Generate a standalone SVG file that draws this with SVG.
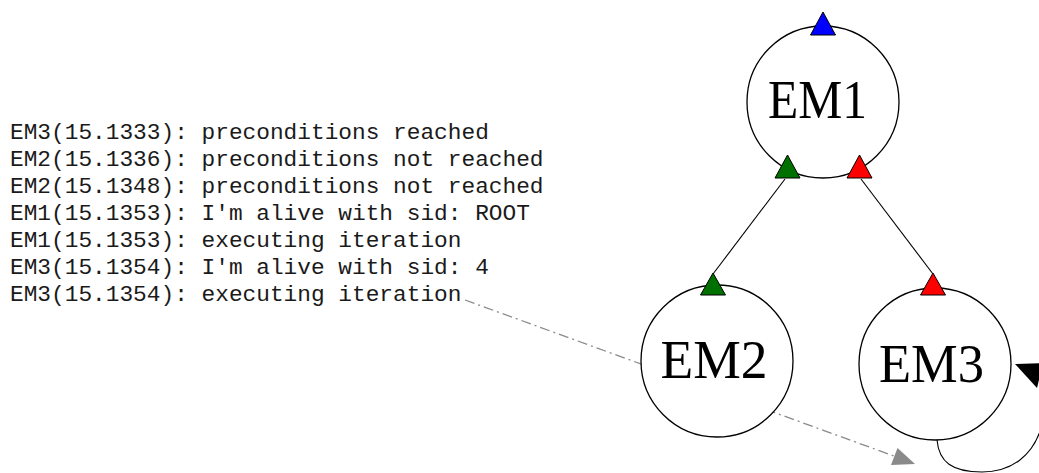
<svg xmlns="http://www.w3.org/2000/svg" width="1039" height="473" viewBox="0 0 1039 473">
  <style>
    .log { font-family: "Liberation Mono", "Courier New", monospace; font-size: 22.8px; fill: #1a1a1a; }
    .node circle { fill: #ffffff; stroke: #000000; stroke-width: 1.3; }
    .node text { font-family: "Liberation Serif", "Times New Roman", serif; font-size: 55px; fill: #000000; text-anchor: middle; }
    .edge { fill: none; stroke: #000000; stroke-width: 1.1; }
    .trace { fill: none; stroke: #8a8a8a; stroke-width: 1.3; stroke-dasharray: 10 4 2 4; }
    .tri { stroke: #000000; stroke-width: 1; stroke-linejoin: miter; }
  </style>

  <!-- event log -->
  <g id="log">
    <text class="log" x="10" y="139">EM3(15.1333): preconditions reached</text>
    <text class="log" x="10" y="166">EM2(15.1336): preconditions not reached</text>
    <text class="log" x="10" y="193">EM2(15.1348): preconditions not reached</text>
    <text class="log" x="10" y="220">EM1(15.1353): I'm alive with sid: ROOT</text>
    <text class="log" x="10" y="247">EM1(15.1353): executing iteration</text>
    <text class="log" x="10" y="274">EM3(15.1354): I'm alive with sid: 4</text>
    <text class="log" x="10" y="301">EM3(15.1354): executing iteration</text>
  </g>

  <!-- connectors -->
  <g id="connectors">
    <path class="trace" d="M465,300 L894,456"/>
    <polygon points="915,464 891,465 897.5,448" fill="#8a8a8a"/>
    <path class="edge" d="M785,179 L713,274"/>
    <path class="edge" d="M861,179 L933,274"/>
    <path class="edge" d="M937,440 C939,462 952,472 982,472 C1012,472 1034,455 1042,425 C1048,395 1046,372 1038,366"/>
  </g>

  <g id="EM1" class="node">
    <circle cx="823" cy="102" r="76"/>
    <text x="817.5" y="118" textLength="99" lengthAdjust="spacingAndGlyphs">EM1</text>
  </g>

  <g id="EM2" class="node">
    <circle cx="717" cy="361" r="76"/>
    <text x="714" y="378" textLength="107" lengthAdjust="spacingAndGlyphs">EM2</text>
  </g>

  <g id="EM3" class="node">
    <circle cx="935" cy="364" r="76"/>
    <text x="931.5" y="382" textLength="105" lengthAdjust="spacingAndGlyphs">EM3</text>
  </g>

  <!-- port markers -->
  <g id="ports">
    <polygon class="tri" points="823,12 835.5,35 810.5,35" fill="#0000ff"/>
    <polygon class="tri" points="787.5,155 800,178 775,178" fill="#007000"/>
    <polygon class="tri" points="859.5,155 872,178 847,178" fill="#ff0000"/>
    <polygon class="tri" points="713,273 725.5,295 700.5,295" fill="#007000"/>
    <polygon class="tri" points="933,273 945.5,295 920.5,295" fill="#ff0000"/>
    <polygon points="1015,364 1043,363 1037,388" fill="#000000"/>
  </g>
</svg>
